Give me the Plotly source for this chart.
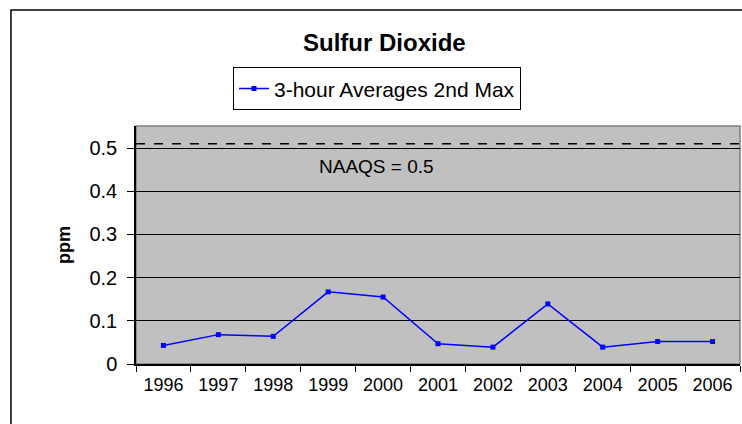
import plotly.graph_objects as go

years = ["1996", "1997", "1998", "1999", "2000", "2001", "2002", "2003", "2004", "2005", "2006"]
so2_3hr_2nd_max = [0.043, 0.068, 0.064, 0.167, 0.155, 0.047, 0.039, 0.139, 0.039, 0.052, 0.052]
naaqs_line = 0.51
naaqs_label = "NAAQS = 0.5"
y_ticks = [0, 0.1, 0.2, 0.3, 0.4, 0.5]
y_tick_text = ["0", "0.1", "0.2", "0.3", "0.4", "0.5"]

font = "Liberation Sans, Arial, sans-serif"

fig = go.Figure()
fig.add_trace(go.Scatter(
    x=years, y=so2_3hr_2nd_max, mode="lines+markers",
    name="3-hour Averages 2nd Max",
    line=dict(color="#0000FF", width=1.5),
    marker=dict(symbol="square", size=5, color="#0000FF"),
))

# plot-area frame (gray top/right)
fig.add_shape(type="rect", xref="paper", yref="paper", x0=0, x1=1, y0=0, y1=1,
              line=dict(color="#808080", width=1.5), layer="below")
# NAAQS dashed line
fig.add_shape(type="line", xref="paper", yref="y", x0=0, x1=1, y0=naaqs_line, y1=naaqs_line,
              line=dict(color="black", width=1.5, dash="dash"))
# outer chart border
fig.add_shape(type="rect", xref="paper", yref="paper", x0=-0.207, x1=1.2, y0=-0.5, y1=1.487,
              line=dict(color="black", width=1.5))

fig.add_annotation(x=3.88, y=0.458, xref="x", yref="y", text=naaqs_label, showarrow=False,
                   font=dict(family=font, size=19, color="black"))
fig.add_annotation(x=-0.139, y=0.5, xref="paper", yref="paper", text="<b>ppm</b>", showarrow=False,
                   textangle=-90, font=dict(family=font, size=18, color="black"))

fig.update_layout(
    width=742, height=424,
    margin=dict(l=136, r=2, t=126, b=60),
    paper_bgcolor="white", plot_bgcolor="#C0C0C0",
    font=dict(family=font, size=18, color="black"),
    title=dict(text="<b>Sulfur Dioxide</b>", x=0.518, xanchor="center", y=0.9, yanchor="middle",
               font=dict(family=font, size=24, color="black")),
    showlegend=True,
    legend=dict(orientation="h", x=0.399, xanchor="center", y=1.246, yanchor="top",
                bordercolor="black", borderwidth=1, bgcolor="white",
                font=dict(family=font, size=21, color="black")),
    xaxis=dict(type="category", tickson="boundaries", ticks="outside", ticklen=6,
               tickcolor="black", showline=True, linecolor="black", linewidth=1.5,
               showgrid=False, range=[-0.5, 10.5], tickfont=dict(size=18), ticklabelstandoff=4),
    yaxis=dict(range=[0, 0.551], tickvals=y_ticks, ticktext=y_tick_text, ticks="outside", ticklen=7,
               tickcolor="black", showline=True, linecolor="black", linewidth=1.5,
               showgrid=True, gridcolor="black", gridwidth=1, zeroline=False,
               tickfont=dict(size=20), ticklabelstandoff=6),
)

post = """
document.body.style.margin = '0';
document.body.style.overflow = 'hidden';
"""
fig.write_html("out.html", post_script=post, config={"displayModeBar": False})
